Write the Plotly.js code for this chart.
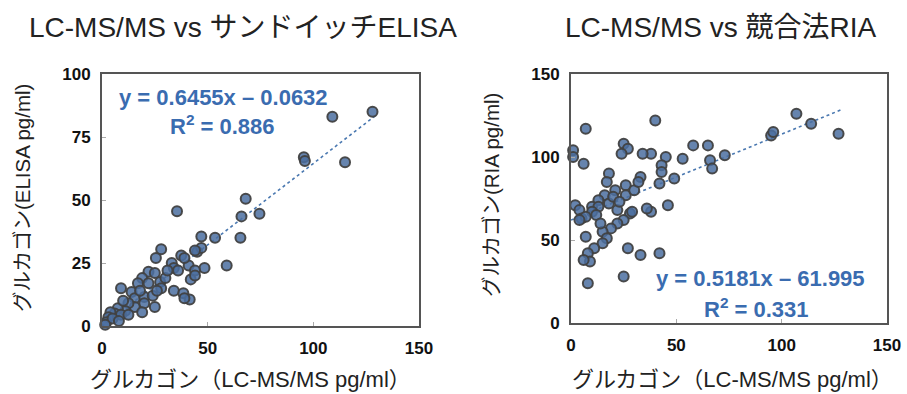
<!DOCTYPE html>
<html>
<head>
<meta charset="utf-8">
<script src="https://cdn.plot.ly/plotly-3.0.1.min.js"></script>
<style>html,body{margin:0;padding:0;background:#fff;}#chart{width:907px;height:394px;}</style>
</head>
<body>
<div id="chart"></div>
<script>
// ---- Left panel: LC-MS/MS vs sandwich ELISA ----
const elisaX = [128,109,115,95.5,96,68,66,74.5,35.5,65.5,47,53.5,59,48.5,45,47,28,25.5,44,37.5,33,34,41,44,42,44,22,25,19,17,22,27.5,28,9,34,38.5,41.5,39,14,15.5,20,24,20,25,15.5,12.5,11,19,7.5,6,4,3,2,9,12.5,5,1.5,30,36,39,31,26,18,10,8];
const elisaY = [85,83,65,67,65.5,50.5,43.5,44.5,45.5,35,35.5,35,24,23,29.5,31,30.5,27,30,28,25,23,24,22,18.5,20,21.5,21,19,17,17,17.5,15,15,14,13,10.5,11,13.5,11,11.5,12,9,7.5,7.5,9,6,5.5,7,5,5.5,3.5,1.5,4.5,4.5,3,0.5,19,22,27,22,14,14,10,2];
const elisaTrendX = [0, 130];
const elisaTrendY = [-0.06, 83.86];
const elisaEq = "y = 0.6455x – 0.0632";
const elisaR2 = "R<sup>2</sup> = 0.886";

// ---- Right panel: LC-MS/MS vs competitive RIA ----
const riaX = [107,114,127,95,96,40,7,73,65,58,66,67,53,45,43,43,49,42,38,34,25,27,24,33,46,38,36,28,42,33,27,25,8,7,1,1,6,2,4,5,18,17,26,21,26,16,13,10,22,29,18,13,10,7,4,25,22,19,15,17,15,11,8,9,6,30,20,23,32,12,14];
const riaY = [126,120,114,113,115,122,117,101,107,107,98,93,99,100,95,91,87,84,102,102,108,105,102,88,71,67,69,66,42,41,45,28,24,52,104,100,96,71,68,63,90,85,83,80,77,77,74,70,68,67,72,70,67,64,62,62,60,57,55,51,48,45,42,37,38,80,76,73,85,65,60];
const riaTrendX = [0, 128];
const riaTrendY = [62.0, 128.3];
const riaEq = "y = 0.5181x – 61.995";
const riaR2 = "R<sup>2</sup> = 0.331";

// ---- Text ----
const titleLeft = "LC-MS/MS vs サンドイッチELISA";
const titleRight = "LC-MS/MS vs 競合法RIA";
const xTitle = "グルカゴン（LC-MS/MS pg/ml）";
const yTitleLeft = "グルカゴン(ELISA pg/ml)";
const yTitleRight = "グルカゴン(RIA pg/ml)";

const jp = '"Liberation Sans", "Noto Sans CJK JP", sans-serif';
const num = '"Liberation Sans", Arial, sans-serif';

const marker = {size: 10, color: 'rgba(75,110,160,0.85)', line: {color: 'rgba(65,65,65,0.95)', width: 2}};
const trendLine = {color: '#4a78b0', width: 1.6, dash: 'dot'};

const traces = [
  {x: elisaTrendX, y: elisaTrendY, mode: 'lines', line: trendLine, xaxis: 'x', yaxis: 'y', hoverinfo: 'skip'},
  {x: elisaX, y: elisaY, mode: 'markers', marker: marker, xaxis: 'x', yaxis: 'y', cliponaxis: false},
  {x: riaTrendX, y: riaTrendY, mode: 'lines', line: trendLine, xaxis: 'x2', yaxis: 'y2', hoverinfo: 'skip'},
  {x: riaX, y: riaY, mode: 'markers', marker: marker, xaxis: 'x2', yaxis: 'y2', cliponaxis: false}
];

const W = 907, H = 394;
const px = v => v / W, py = v => 1 - v / H;

const axBase = {
  showgrid: false, zeroline: false, showline: true, mirror: true,
  linecolor: '#555', linewidth: 2, ticks: 'inside', ticklen: 4, tickcolor: '#aaa',
  tickfont: {family: num, size: 17, color: '#111', weight: 'bold'}, automargin: false
};

const layout = {
  width: W, height: H, showlegend: false,
  margin: {l: 0, r: 0, t: 0, b: 0},
  paper_bgcolor: '#fff', plot_bgcolor: '#fff',
  xaxis: Object.assign({}, axBase, {domain: [px(102), px(419)], range: [0, 150], dtick: 50, anchor: 'y', ticklabelstandoff: 6}),
  yaxis: Object.assign({}, axBase, {domain: [py(326), py(74)], range: [0, 100], dtick: 25, anchor: 'x', ticklabelstandoff: 6}),
  xaxis2: Object.assign({}, axBase, {domain: [px(571), px(887)], range: [0, 150], dtick: 50, anchor: 'y2', ticklabelstandoff: 6}),
  yaxis2: Object.assign({}, axBase, {domain: [py(323), py(74)], range: [0, 150], dtick: 50, anchor: 'x2', ticklabelstandoff: 6}),
  annotations: [
    {text: titleLeft, x: px(243), y: py(28), xref: 'paper', yref: 'paper', showarrow: false, xanchor: 'center', yanchor: 'middle', font: {family: jp, size: 28, color: '#222'}},
    {text: titleRight, x: px(720), y: py(28), xref: 'paper', yref: 'paper', showarrow: false, xanchor: 'center', yanchor: 'middle', font: {family: jp, size: 28, color: '#222'}},
    {text: xTitle, x: px(250), y: py(379), xref: 'paper', yref: 'paper', showarrow: false, xanchor: 'center', yanchor: 'middle', font: {family: jp, size: 22, color: '#222'}},
    {text: xTitle, x: px(732), y: py(379), xref: 'paper', yref: 'paper', showarrow: false, xanchor: 'center', yanchor: 'middle', font: {family: jp, size: 22, color: '#222'}},
    {text: yTitleLeft, x: px(23), y: py(198), xref: 'paper', yref: 'paper', showarrow: false, textangle: -90, xanchor: 'center', yanchor: 'middle', font: {family: jp, size: 20.5, color: '#222'}},
    {text: yTitleRight, x: px(491), y: py(195), xref: 'paper', yref: 'paper', showarrow: false, textangle: -90, xanchor: 'center', yanchor: 'middle', font: {family: jp, size: 20.5, color: '#222'}},
    {text: elisaEq, x: px(223), y: py(98), xref: 'paper', yref: 'paper', showarrow: false, xanchor: 'center', yanchor: 'middle', font: {family: num, size: 22, color: '#3a6cb0', weight: 'bold'}},
    {text: elisaR2, x: px(222), y: py(125), xref: 'paper', yref: 'paper', showarrow: false, xanchor: 'center', yanchor: 'middle', font: {family: num, size: 22, color: '#3a6cb0', weight: 'bold'}},
    {text: riaEq, x: px(760), y: py(278), xref: 'paper', yref: 'paper', showarrow: false, xanchor: 'center', yanchor: 'middle', font: {family: num, size: 22, color: '#3a6cb0', weight: 'bold'}},
    {text: riaR2, x: px(756), y: py(308), xref: 'paper', yref: 'paper', showarrow: false, xanchor: 'center', yanchor: 'middle', font: {family: num, size: 22, color: '#3a6cb0', weight: 'bold'}}
  ]
};

Plotly.newPlot('chart', traces, layout, {staticPlot: true, displayModeBar: false});
</script>
</body>
</html>
